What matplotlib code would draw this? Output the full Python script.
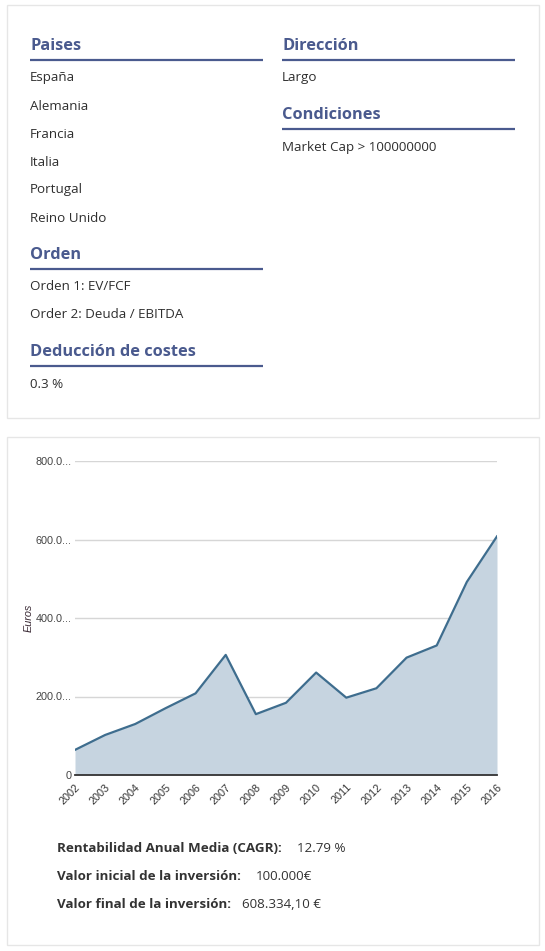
import matplotlib
matplotlib.use("Agg")
import matplotlib.pyplot as plt
from matplotlib.patches import Rectangle

# --- data ---
years = ["2002", "2003", "2004", "2005", "2006", "2007", "2008", "2009",
         "2010", "2011", "2012", "2013", "2014", "2015", "2016"]
values = [64, 102, 130, 170, 208, 306, 155, 184, 261, 197, 221, 299, 330, 492, 608]
y_ticks = [0, 200, 400, 600, 800]
y_tick_labels = ["0", "200.0...", "400.0...", "600.0...", "800.0..."]

paises = ["España", "Alemania", "Francia", "Italia", "Portugal", "Reino Unido"]
orden = ["Orden 1: EV/FCF", "Order 2: Deuda / EBITDA"]
costes = ["0.3 %"]
direccion = ["Largo"]
condiciones = ["Market Cap > 100000000"]
stats_labels = ["Rentabilidad Anual Media (CAGR):", "Valor inicial de la inversión:",
                "Valor final de la inversión:"]
stats_values = ["12.79 %", "100.000€", "608.334,10 €"]

W, H = 545, 951
HEAD = "#4a5a8e"
TXT = "#333333"
LINE = "#3e6d8e"
FILL = "#c6d4e0"

fig = plt.figure(figsize=(W / 100, H / 100), dpi=100, facecolor="white")

# overlay in pixel coordinates for the cards and texts
ov = fig.add_axes([0, 0, 1, 1])
ov.set_xlim(0, W)
ov.set_ylim(H, 0)
ov.axis("off")

for (y0, y1) in [(5, 418), (437, 945)]:
    ov.add_patch(Rectangle((7, y0), 532, y1 - y0, fill=False, edgecolor="#e6e6e6", lw=1))

font = ["Open Sans", "DejaVu Sans"]


def section(x, y, title, items):
    ov.text(x, y, title, fontsize=11.8, fontweight="bold", color=HEAD,
            family=font, va="center", ha="left")
    ov.plot([x, x + 233], [y + 14, y + 14], color=HEAD, lw=1.6, solid_capstyle="butt")
    for i, it in enumerate(items):
        ov.text(x, y + 32 + 28 * i, it, fontsize=9.6, color="#2e2e2e", family=font,
                va="center", ha="left")


section(30, 46, "Paises", paises)
section(30, 255, "Orden", orden)
section(30, 352, "Deducción de costes", costes)
section(282, 46, "Dirección", direccion)
section(282, 115, "Condiciones", condiciones)

value_x = [297, 256, 242]
for i, (lab, val) in enumerate(zip(stats_labels, stats_values)):
    yy = 848 + 28 * i
    ov.text(57, yy, lab, fontsize=9.6, fontweight="bold", color=TXT, family=font,
            va="center", ha="left")
    ov.text(value_x[i], yy, val, fontsize=9.6, color=TXT, family=font,
            va="center", ha="left")

# --- area chart ---
left, right, top, bottom = 75, 497, 461, 775
ax = fig.add_axes([left / W, 1 - bottom / H, (right - left) / W, (bottom - top) / H])
x = list(range(len(years)))
ax.fill_between(x, values, 0, color=FILL, lw=0)
ax.plot(x, values, color=LINE, lw=1.6)
ax.set_xlim(0, len(years) - 1)
ax.set_ylim(0, 800)
ax.set_yticks(y_ticks)
ax.set_yticklabels(y_tick_labels, family="Liberation Sans", fontsize=7.8, color="#444444")
ax.set_xticks(x)
ax.set_xticklabels(years, family="Liberation Sans", fontsize=7.8, color="#333333",
                   rotation=45, ha="right", rotation_mode="anchor")
ax.tick_params(axis="both", length=0)
ax.tick_params(axis="y", pad=2.5)
ax.tick_params(axis="x", pad=5)
ax.grid(axis="y", color="#d6d6d6", lw=1)
ax.set_axisbelow(True)
for s in ["top", "right", "left"]:
    ax.spines[s].set_visible(False)
ax.spines["bottom"].set_color("#333333")
ax.spines["bottom"].set_linewidth(1.3)
ax.set_facecolor("none")
ax.set_ylabel("Euros", family="Liberation Sans", fontsize=7.8, style="italic",
              color="#3a2a35")
ax.yaxis.set_label_coords((34 - left) / (right - left), 0.5)

fig.savefig("out.png", dpi=100, facecolor="white")
